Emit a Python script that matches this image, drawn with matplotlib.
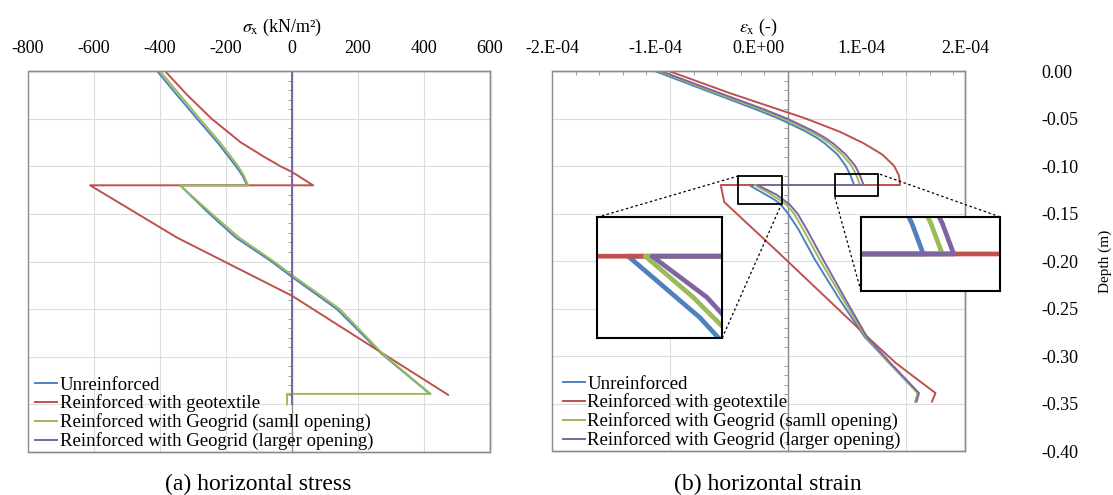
import numpy as np
import matplotlib
matplotlib.use("Agg")
import matplotlib.pyplot as plt
from matplotlib.patches import Rectangle
from mpl_toolkits.axes_grid1.inset_locator import mark_inset

plt.rcParams["font.family"] = ["Liberation Serif", "DejaVu Serif"]
plt.rcParams["mathtext.fontset"] = "stix"

series_labels = ["Unreinforced", "Reinforced with geotextile",
                 "Reinforced with Geogrid (samll opening)",
                 "Reinforced with Geogrid (larger opening)"]
colors = ["#4F81BD", "#C0504D", "#9BBB59", "#8064A2"]

# (a) horizontal stress sigma_x (kN/m2) vs depth (m)
unreinf_depth_a = [0, -0.025, -0.05, -0.075, -0.10, -0.11, -0.12, -0.12, -0.15, -0.175,
                   -0.20, -0.215, -0.25, -0.297, -0.339]
unreinf_a = [-409, -349, -288, -226, -170, -150, -136, -339, -250, -170, -62, -5, 136, 272, 418]
geotex_depth_a = [0, -0.025, -0.05, -0.075, -0.09, -0.10, -0.106, -0.12, -0.12, -0.175,
                  -0.236, -0.286, -0.34]
geotex_a = [-385, -318, -244, -155, -85, -35, 0, 64, -612, -348, 0, 227, 473]
small_depth_a = [0, -0.025, -0.05, -0.075, -0.10, -0.11, -0.12, -0.12, -0.15, -0.175, -0.20,
                 -0.215, -0.25, -0.297, -0.339, -0.339, -0.35]
small_a = [-400, -340, -280, -218, -163, -146, -133, -339, -243, -160, -55, 3, 145, 275, 420,
           -15, -15]
large_depth_a = [0, -0.35]
large_a = [0, 0]

# (b) horizontal strain eps_x (x1E-04) vs depth (m)
unreinf_depth_b = [0, -0.025, -0.04, -0.05, -0.057, -0.063, -0.07, -0.076, -0.088, -0.10,
                   -0.11, -0.12, -0.12, -0.13, -0.135, -0.14, -0.15, -0.167, -0.199, -0.241,
                   -0.28, -0.309, -0.339, -0.348]
unreinf_b = [-1.13, -0.60, -0.28, -0.08, 0.04, 0.14, 0.24, 0.31, 0.42, 0.49, 0.53, 0.56,
             -0.33, -0.19, -0.12, -0.065, 0.00, 0.09, 0.23, 0.44, 0.65, 0.87, 1.10, 1.08]
small_depth_b = [0, -0.025, -0.04, -0.05, -0.057, -0.063, -0.07, -0.076, -0.088, -0.10,
                 -0.11, -0.12, -0.12, -0.13, -0.14, -0.15, -0.167, -0.199, -0.241, -0.28,
                 -0.309, -0.339, -0.348]
small_b = [-1.10, -0.57, -0.24, -0.04, 0.08, 0.18, 0.28, 0.35, 0.46, 0.54, 0.58, 0.61,
           -0.28, -0.14, -0.02, 0.05, 0.13, 0.27, 0.47, 0.66, 0.87, 1.10, 1.08]
large_depth_b = [0, -0.025, -0.04, -0.05, -0.057, -0.063, -0.07, -0.076, -0.088, -0.10,
                 -0.11, -0.12, -0.12, -0.13, -0.14, -0.15, -0.167, -0.199, -0.241, -0.28,
                 -0.309, -0.339, -0.348]
large_b = [-1.08, -0.54, -0.21, -0.01, 0.11, 0.21, 0.31, 0.38, 0.49, 0.57, 0.61, 0.64,
           -0.26, -0.10, 0.01, 0.08, 0.16, 0.30, 0.49, 0.67, 0.88, 1.11, 1.09]
geotex_depth_b = [0, -0.023, -0.05, -0.064, -0.076, -0.088, -0.10, -0.11, -0.12, -0.12,
                  -0.138, -0.19, -0.283, -0.307, -0.325, -0.339, -0.348]
geotex_b = [-1.01, -0.50, 0.15, 0.44, 0.64, 0.80, 0.90, 0.94, 0.95, -0.57,
            -0.54, -0.09, 0.70, 0.91, 1.10, 1.25, 1.22]

stress_ticks = [-800, -600, -400, -200, 0, 200, 400, 600]
strain_labels = ["-2.E-04", "-1.E-04", "0.E+00", "1.E-04", "2.E-04"]
strain_grid = [-1e-4, 0, 1e-4]
depth_ticks = [0.0, -0.05, -0.10, -0.15, -0.20, -0.25, -0.30, -0.35, -0.40]
depth_labels = ["0.00", "-0.05", "-0.10", "-0.15", "-0.20", "-0.25", "-0.30", "-0.35", "-0.40"]

GRID = "#DCDCDC"
SPINE = "#8C8C8C"
FS = 13

fig = plt.figure(figsize=(11.13, 4.95), dpi=100)
ax_a = fig.add_axes([28 / 1113, 43 / 495, 462 / 1113, 381 / 495])
ax_b = fig.add_axes([552 / 1113, 44 / 495, 413 / 1113, 380 / 495])


def frame(ax, xlim):
    ax.set_xlim(xlim)
    ax.set_ylim(-0.40, 0)
    ax.spines["left"].set_position(("data", 0))
    for sp in ax.spines.values():
        sp.set_color(SPINE)
        sp.set_linewidth(1)
    ax.add_patch(Rectangle((0, 0), 1, 1, transform=ax.transAxes, fill=False,
                           ec=SPINE, lw=1, clip_on=False, zorder=6))
    ax.set_yticks(depth_ticks, depth_labels)
    ax.set_yticks(np.arange(-0.40, 0.0001, 0.01), minor=True)
    ax.grid(axis="y", which="major", color=GRID, lw=0.8)
    ax.tick_params(axis="y", which="major", length=0, left=False, right=False,
                   labelleft=False, labelsize=FS)
    ax.tick_params(axis="y", which="minor", left=True, right=False, length=3,
                   color=SPINE, direction="out")
    ax.xaxis.tick_top()
    ax.xaxis.set_label_position("top")
    ax.tick_params(axis="x", which="major", length=0, pad=10, labelsize=FS)
    ax.set_axisbelow(True)


legend_kw = dict(loc="lower left", frameon=False, fontsize=13.5, handlelength=1.15,
                 handletextpad=0.15, labelspacing=0.05, borderaxespad=0, borderpad=0.1)

# ---- (a) stress
frame(ax_a, (-800, 600))
ax_a.set_xticks(stress_ticks, [str(v) for v in stress_ticks])
ax_a.grid(axis="x", color=GRID, lw=0.8)
data_a = [(unreinf_a, unreinf_depth_a), (geotex_a, geotex_depth_a),
          (small_a, small_depth_a), (large_a, large_depth_a)]
for (x, d), c, lab in zip(data_a, colors, series_labels):
    ax_a.plot(x, d, color=c, lw=1.4, label=lab, zorder=3)
ax_a.set_xlabel(r"$\sigma_{\mathrm{x}}$ (kN/m²)", fontsize=FS, labelpad=6)
ax_a.xaxis.label.set_x(0.55)
ax_a.legend(bbox_to_anchor=(0.012, 0.0), **legend_kw)

# ---- (b) strain
frame(ax_b, (-2e-4, 1.5e-4))
ax_b.set_xticks(np.linspace(-2e-4, 1.5e-4, 5), strain_labels)
ax_b.set_xticks(np.arange(-2e-4, 1.5e-4 + 1e-9, 2e-5), minor=True)
ax_b.tick_params(axis="x", which="minor", top=True, bottom=False, direction="in",
                 length=3, color=SPINE)
for v in strain_grid:
    ax_b.axvline(v, color=GRID, lw=0.8, zorder=0)
ax_b.tick_params(axis="y", which="major", labelright=True, pad=55)
ax_b.yaxis.set_label_position("right")
ax_b.set_ylabel("Depth (m)", fontsize=11, labelpad=14)
ax_b.set_xlabel(r"$\varepsilon_{\mathrm{x}}$ (-)", fontsize=FS, labelpad=6)

data_b = [(unreinf_b, unreinf_depth_b), (geotex_b, geotex_depth_b),
          (small_b, small_depth_b), (large_b, large_depth_b)]
for (x, d), c, lab in zip(data_b, colors, series_labels):
    ax_b.plot(np.array(x) * 1e-4, d, color=c, lw=1.4, label=lab, zorder=3)
ax_b.legend(bbox_to_anchor=(0.022, 0.0), **legend_kw)

# zoom insets
insets = [([0.109, 0.297, 0.303, 0.318], (-0.421e-4, -0.055e-4), (-0.140, -0.1105), (2, 4)),
          ([0.748, 0.421, 0.337, 0.195], (0.396e-4, 0.762e-4), (-0.1321, -0.1079), (1, 3))]
for rect, xl, yl, locs in insets:
    axins = ax_b.inset_axes(rect)
    axins.set_zorder(7)
    for (x, d), c in zip(data_b, colors):
        axins.plot(np.array(x) * 1e-4, d, color=c, lw=3.4, solid_capstyle="butt")
    axins.set_xlim(xl)
    axins.set_ylim(yl)
    axins.set_xticks([])
    axins.set_yticks([])
    for sp in axins.spines.values():
        sp.set_color("black")
        sp.set_linewidth(1.5)
    pp, p1, p2 = mark_inset(ax_b, axins, loc1=locs[0], loc2=locs[1], fc="none",
                            ec="black", lw=1.3)
    pp.set_zorder(7)
    for p in (p1, p2):
        p.set_linestyle((0, (2, 2)))
        p.set_linewidth(0.9)

fig.text(258 / 1113, 1 - 484 / 495, "(a) horizontal stress", fontsize=17, ha="center", va="center")
fig.text(768 / 1113, 1 - 484 / 495, "(b) horizontal strain", fontsize=17, ha="center", va="center")

fig.savefig("out.png", dpi=100)
